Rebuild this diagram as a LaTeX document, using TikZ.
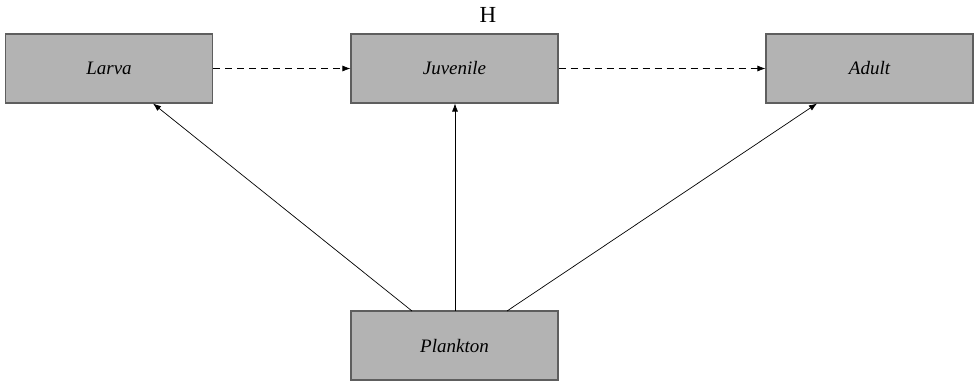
\documentclass[tikz,border=0pt]{standalone}
\usepackage{fontspec}
\setmainfont{Liberation Serif}
\usetikzlibrary{arrows.meta}
\definecolor{boxfill}{HTML}{B3B3B3}
\definecolor{boxline}{HTML}{5E5E5E}
\begin{document}
\begin{tikzpicture}[x=1pt,y=-1pt,
  stagebox/.style={draw=boxline,line width=1.2pt,fill=boxfill,minimum width=207pt,minimum height=69pt,inner sep=0pt,font=\fontsize{19}{21}\selectfont\itshape},
  link/.style={-{Latex[length=8pt,width=6pt]},line width=0.7pt,black},
  dlink/.style={link,dash pattern=on 7pt off 5pt}]
\useasboundingbox (0,0) rectangle (974,384);
\node[stagebox] (larva) at (109,68.5) {Larva};
\node[stagebox] (juv) at (454.5,68.5) {Juvenile};
\node[stagebox] (adult) at (869.5,68.5) {Adult};
\node[stagebox] (plank) at (454.5,345.5) {Plankton};
\node[font=\fontsize{23}{25}\selectfont] (h) at (488,15) {H};
\draw[dlink] (larva.east) -- (juv.west);
\draw[dlink] (juv.east) -- (adult.west);
\coordinate (p1) at (412,311);
\coordinate (p2) at (455,311);
\coordinate (p3) at (507,311);
\coordinate (l1) at (153,103.5);
\coordinate (j1) at (455,103.5);
\coordinate (a1) at (817,103.5);
\draw[link] (p1) -- (l1);
\draw[link] (p2) -- (j1);
\draw[link] (p3) -- (a1);
\end{tikzpicture}
\end{document}
